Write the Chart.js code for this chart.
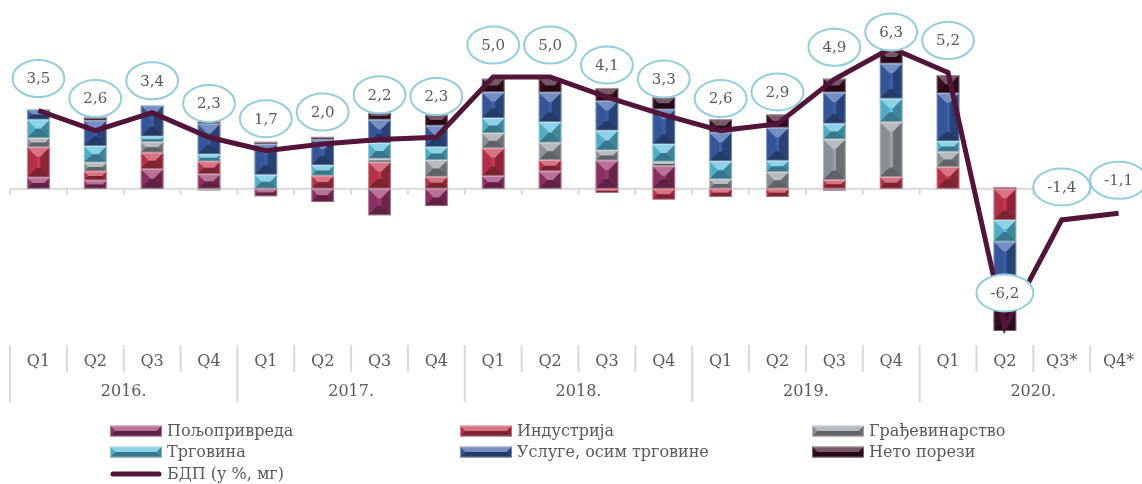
<!DOCTYPE html>
<html><head><meta charset="utf-8">
<script src="https://cdn.jsdelivr.net/npm/chart.js@4.4.1/dist/chart.umd.min.js"></script>
<style>
html,body{margin:0;padding:0;background:#fff;overflow:hidden;}
#wrap{position:relative;width:1147px;height:484px;}
</style></head><body>
<div id="wrap"><canvas id="c"></canvas></div>
<script>
// ---- data ----
const quarters = ['Q1','Q2','Q3','Q4','Q1','Q2','Q3','Q4','Q1','Q2','Q3','Q4','Q1','Q2','Q3','Q4','Q1','Q2','Q3*','Q4*'];
const years = ['2016.','2017.','2018.','2019.','2020.'];
const seriesNames = ['Пољопривреда','Индустрија','Грађевинарство','Трговина','Услуге, осим трговине','Нето порези'];
const gdpName = 'БДП (у %, мг)';
const agriculture  = [0.50, 0.37, 0.88, 0.65, -0.34, -0.60, -1.19, -0.78, 0.57, 0.78, 1.26, 1.01, 0, 0, -0.08, 0, 0, 0.08, null, null];
const industry     = [1.36, 0.40, 0.73, 0.57, 0, 0.58, 1.18, 0.53, 1.24, 0.50, -0.19, -0.49, -0.37, -0.37, 0.39, 0.52, 0.97, -1.40, null, null];
const construction = [0.41, 0.40, 0.48, -0.08, 0, 0, 0.16, 0.75, 0.68, 0.78, 0.46, 0.20, 0.42, 0.75, 1.82, 2.47, 0.68, 0, null, null];
const trade        = [0.82, 0.74, 0.25, 0.32, 0.62, 0.47, 0.70, 0.59, 0.67, 0.92, 0.88, 0.78, 0.81, 0.50, 0.70, 1.04, 0.47, -0.97, null, null];
const services     = [0.46, 1.14, 1.39, 1.37, 1.38, 1.15, 1.05, 0.95, 1.16, 1.33, 1.33, 1.56, 1.29, 1.48, 1.40, 1.57, 2.15, -2.70, null, null];
const netTaxes     = [0, 0.15, 0, 0.10, 0.10, 0.12, 0.31, 0.50, 0.61, 0.62, 0.58, 0.55, 0.59, 0.60, 0.62, 0.58, 0.82, -1.30, null, null];
const gdp          = [3.5, 2.6, 3.4, 2.3, 1.7, 2.0, 2.2, 2.3, 5.0, 5.0, 4.1, 3.3, 2.6, 2.9, 4.9, 6.3, 5.2, -6.2, -1.4, -1.1];

const seriesData = [agriculture, industry, construction, trade, services, netTaxes];
const seriesColors = ['#9A356C','#C8374F','#9AA0A6','#5BC0DE','#3A5FA8','#3D1026'];
const lineColor = '#521539';
const textColor = '#595959';
const FONT = '"DejaVu Serif", serif';

function poly(ctx, pts, color){
  ctx.beginPath(); ctx.moveTo(pts[0],pts[1]);
  for(let i=2;i<pts.length;i+=2) ctx.lineTo(pts[i],pts[i+1]);
  ctx.closePath(); ctx.fillStyle=color; ctx.fill();
}
function bevel(ctx,l,t,r,b,horizontal){
  const w=r-l, h=b-t; if(h<0.8||w<0.8) return;
  const d = horizontal ? Math.min(h/2, w*0.42) : Math.min(w*0.42, h/2);
  poly(ctx,[l,t, r,t, r-d,t+d, l+d,t+d],'rgba(255,255,255,0.30)');
  poly(ctx,[l,b, r,b, r-d,b-d, l+d,b-d],'rgba(0,0,0,0.38)');
  poly(ctx,[l,t, l+d,t+d, l+d,b-d, l,b],'rgba(0,0,0,0.10)');
  poly(ctx,[r,t, r-d,t+d, r-d,b-d, r,b],'rgba(0,0,0,0.30)');
  ctx.strokeStyle='rgba(255,255,255,0.35)'; ctx.lineWidth=1;
  ctx.strokeRect(l+0.5,t+0.5,w-1,h-1);
}

const decor = {
  id:'decor',
  beforeDatasetsDraw(chart){
    const {ctx, scales:{x,y}} = chart;
    const y0 = y.getPixelForValue(0);
    const n = quarters.length, cw = x.width/n;
    ctx.save();
    ctx.strokeStyle='#D9D9D9'; ctx.lineWidth=2;
    ctx.beginPath(); ctx.moveTo(x.left,y0); ctx.lineTo(x.right,y0); ctx.stroke();
    ctx.beginPath();
    for(let k=0;k<=n;k++){ const bx=x.left+k*cw; ctx.moveTo(bx,y0); ctx.lineTo(bx,y0+6); }
    ctx.stroke();
    ctx.restore();
  },
  afterDatasetDraw(chart,args){
    const meta=args.meta; if(meta.type!=='bar') return;
    const ctx=chart.ctx; ctx.save();
    meta.data.forEach(el=>{
      const p=el.getProps(['x','y','base','width'],true);
      if(p.y==null||isNaN(p.y)) return;
      const l=p.x-p.width/2, r=p.x+p.width/2, t=Math.min(p.y,p.base), b=Math.max(p.y,p.base);
      bevel(ctx,l,t,r,b,false);
    });
    ctx.restore();
  },
  afterDraw(chart){
    const {ctx, scales:{x,y}, chartArea} = chart;
    const n = quarters.length, cw = x.width/n;
    ctx.save();
    // data labels
    const lineMeta = chart.getDatasetMeta(0);
    ctx.font='15px '+FONT; ctx.textAlign='center'; ctx.textBaseline='middle';
    gdp.forEach((v,i)=>{
      let pos=0, neg=0, has=false;
      seriesData.forEach(s=>{ const d=s[i]; if(d==null) return; has=true; if(d>0) pos+=d; else neg+=d; });
      const px = lineMeta.data[i].x, py = lineMeta.data[i].y;
      let cy;
      if(v>=0){
        const top = has ? y.getPixelForValue(pos) : py;
        cy = Math.max(chartArea.top+22, Math.min(py-32, top-18));
      } else if(has){
        cy = y.getPixelForValue(neg) - 38;
      } else cy = py-33;
      const txt = v.toFixed(1).replace('.',',');
      const tw = ctx.measureText(txt).width;
      ctx.beginPath(); ctx.ellipse(px,cy,(tw+28)/2,18.5,0,0,Math.PI*2);
      ctx.fillStyle='#fff'; ctx.fill();
      ctx.strokeStyle='#92CDDC'; ctx.lineWidth=2; ctx.stroke();
      ctx.fillStyle=textColor; ctx.fillText(txt,px,cy+1);
    });
    // category axis
    const axTop = chartArea.bottom;
    ctx.strokeStyle='#D9D9D9'; ctx.lineWidth=2;
    ctx.beginPath();
    for(let k=0;k<=n;k++){
      const bx=x.left+k*cw;
      ctx.moveTo(bx,axTop); ctx.lineTo(bx, k%4===0 ? axTop+57 : axTop+27);
    }
    ctx.stroke();
    ctx.font='16px '+FONT; ctx.fillStyle=textColor;
    quarters.forEach((q,i)=>ctx.fillText(q, x.getPixelForValue(i), axTop+17));
    years.forEach((yr,j)=>{
      const cx=(x.getPixelForValue(j*4)+x.getPixelForValue(j*4+3))/2;
      ctx.fillText(yr, cx, axTop+47);
    });
    // legend
    const cols=[110,460,812], rows=[431,452,474];
    ctx.textAlign='left';
    seriesNames.forEach((nm,i)=>{
      const lx=cols[i%3], ly=rows[Math.floor(i/3)];
      ctx.fillStyle=seriesColors[i]; ctx.fillRect(lx,ly-5.5,52,11);
      bevel(ctx,lx,ly-5.5,lx+52,ly+5.5,true);
      ctx.fillStyle=textColor; ctx.fillText(nm,lx+57,ly+1);
    });
    const ly=rows[2];
    ctx.strokeStyle=lineColor; ctx.lineWidth=5; ctx.lineCap='round';
    ctx.beginPath(); ctx.moveTo(cols[0]+3,ly); ctx.lineTo(cols[0]+49,ly); ctx.stroke();
    ctx.fillStyle=textColor; ctx.fillText(gdpName,cols[0]+57,ly+1);
    ctx.restore();
  }
};

const datasets = [{
  type:'line', label:gdpName, data:gdp, borderColor:lineColor, borderWidth:5,
  pointRadius:0, tension:0, fill:false, order:0, borderJoinStyle:'miter'
}];
seriesNames.forEach((nm,i)=>datasets.push({
  type:'bar', label:nm, data:seriesData[i], backgroundColor:seriesColors[i],
  borderWidth:0, barPercentage:0.4, categoryPercentage:1, order:1
}));

new Chart(document.getElementById('c'),{
  type:'bar',
  data:{labels:quarters.map((q,i)=>q+'_'+i), datasets},
  options:{
    responsive:true, maintainAspectRatio:false, animation:false,
    layout:{padding:{left:10,top:10,right:0,bottom:139}},
    plugins:{legend:{display:false}, tooltip:{enabled:false}},
    scales:{
      x:{display:false, stacked:true, offset:true},
      y:{display:false, stacked:true, min:-7, max:8}
    }
  },
  plugins:[decor]
});
</script>
</body></html>
